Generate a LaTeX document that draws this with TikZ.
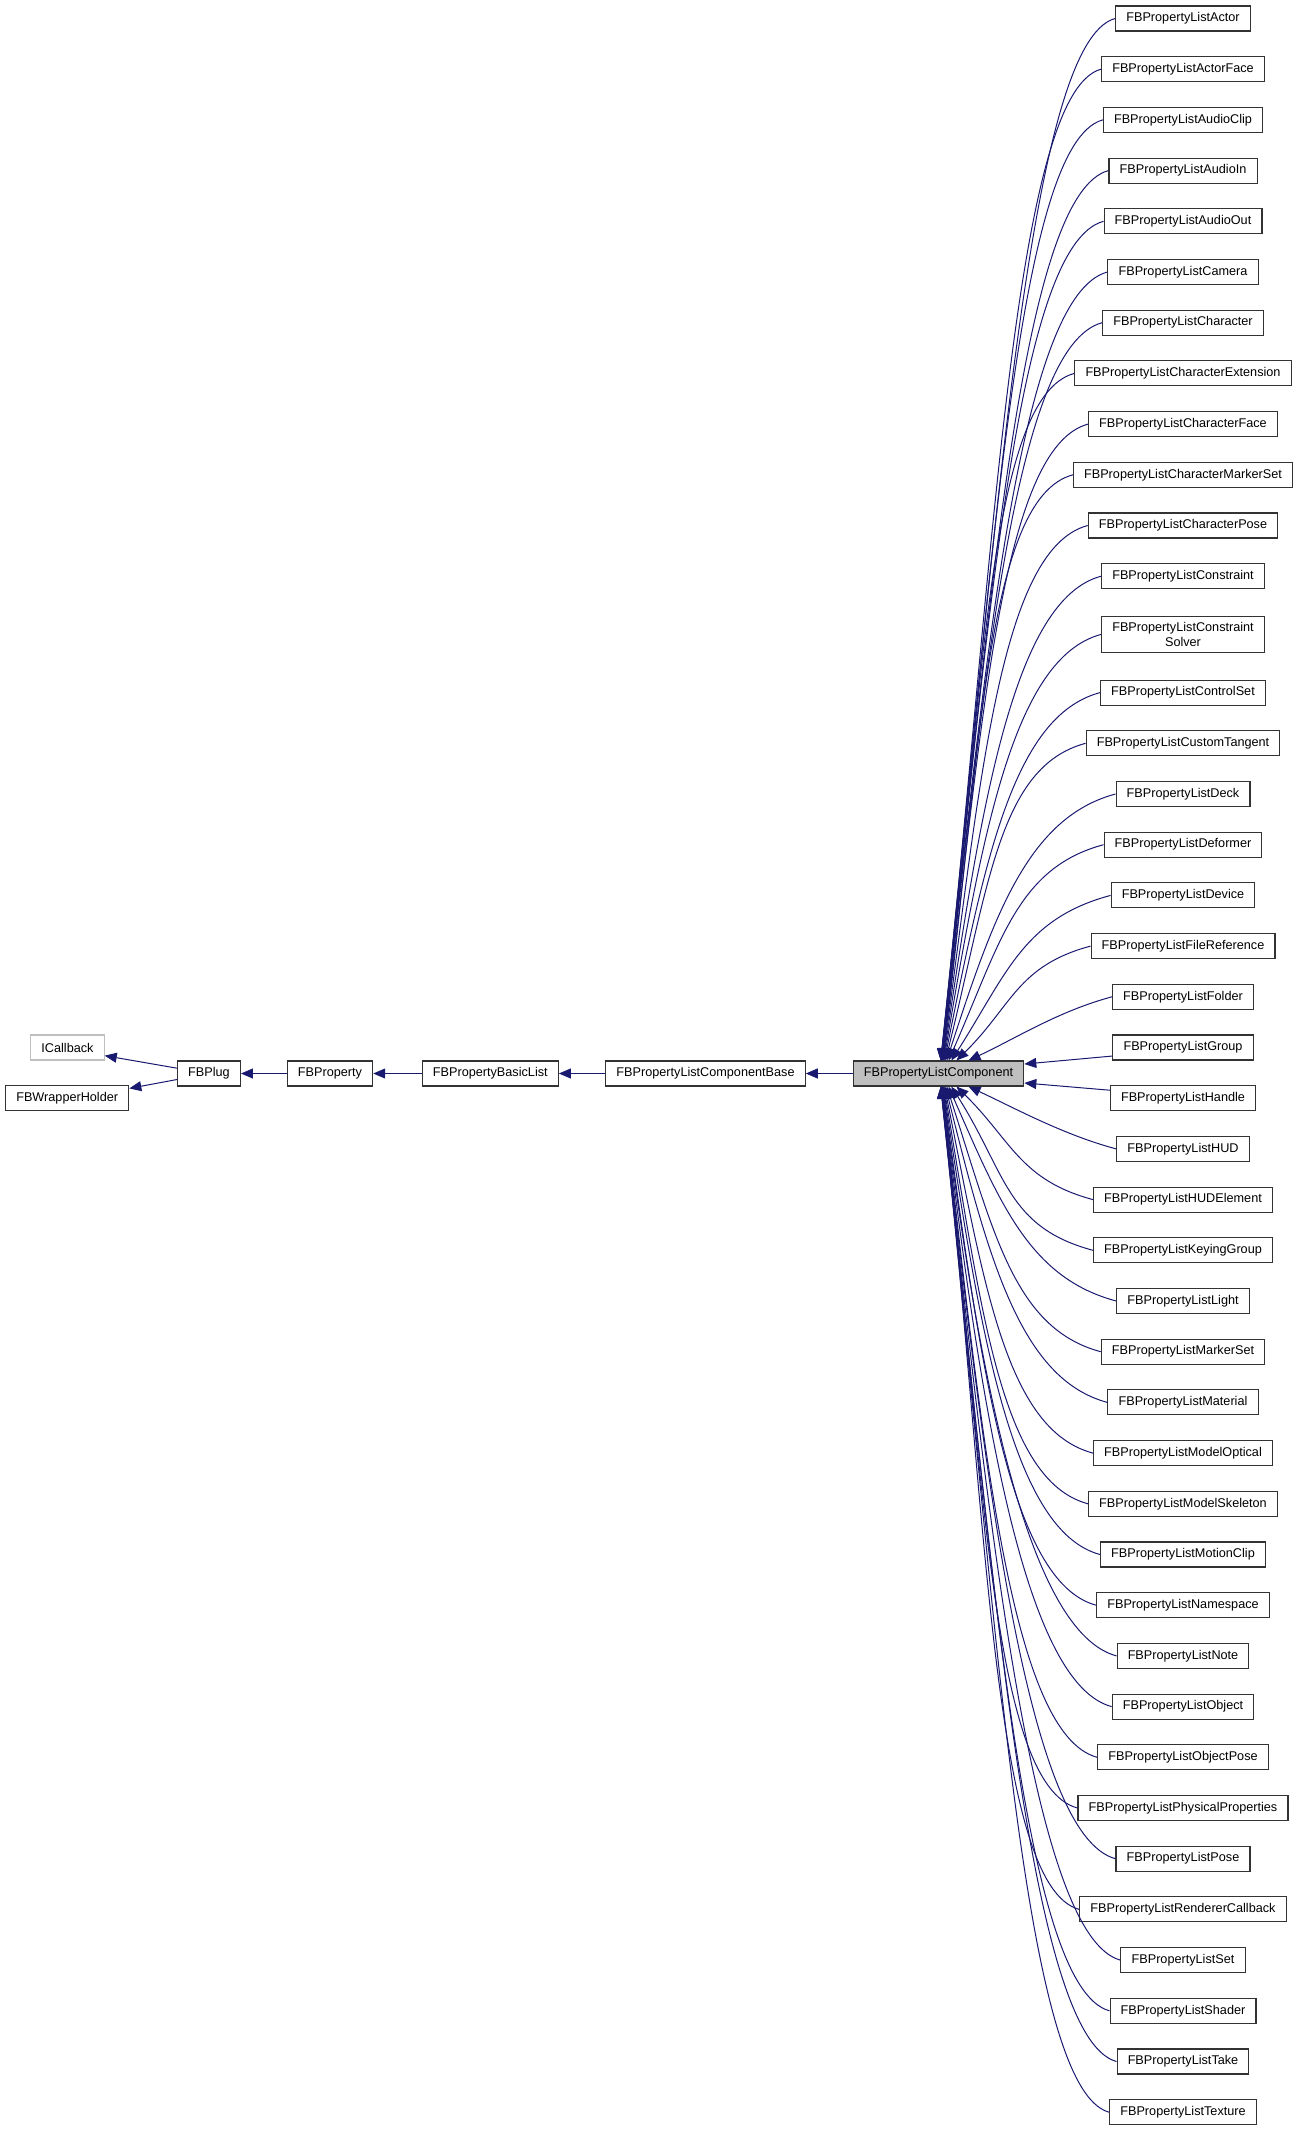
\documentclass[tikz,border=0pt]{standalone}
\usepackage{fontspec}
\setmainfont{Liberation Sans}
\usepackage{tikz}
\usetikzlibrary{arrows.meta}

\definecolor{edgeblue}{HTML}{191970}
\definecolor{nolink}{HTML}{BFBFBF}
\newcommand{\boxfont}{\fontsize{9.5}{11.25}\selectfont}

\begin{document}
\begin{tikzpicture}
		[x=0.75pt,y=0.75pt,
		n/.style= {draw=black!80,line width=0.8pt,fill=white,inner xsep=8pt,inner ysep=4.5pt,minimum height=18.75pt,font=\boxfont,align=center},
		e/.style= {draw=edgeblue,line width=0.75pt,-{Triangle[length=9pt,width=7.5pt]}}]

		\useasboundingbox (0,0) rectangle (1299,-2131);

		% base classes
		\node[n,draw=nolink] (icb) at (67.5,-1047.5) {ICallback};
		\node[n] (wrap) at (67.2,-1098.4) {FBWrapperHolder};
		\node[n] (plug) at (209,-1073.5) {FBPlug};
		\node[n] (prop) at (330,-1073.5) {FBProperty};
		\node[n] (basic) at (490.3,-1073.5) {FBPropertyBasicList};
		\node[n] (base) at (705.5,-1073.5) {FBPropertyListComponentBase};
		\node[n,fill=nolink] (comp) at (938.5,-1073.5) {FBPropertyListComponent};

		% derived classes
		\foreach \i/\t in {0/Actor,1/ActorFace,2/AudioClip,3/AudioIn,4/AudioOut,5/Camera,
			6/Character,7/CharacterExtension,8/CharacterFace,9/CharacterMarkerSet,
			10/CharacterPose,11/Constraint,12/{Constraint\\Solver},13/ControlSet,
			14/CustomTangent,15/Deck,16/Deformer,17/Device,18/FileReference,19/Folder,
			20/Group,21/Handle,22/HUD,23/HUDElement,24/KeyingGroup,25/Light,26/MarkerSet,
			27/Material,28/ModelOptical,29/ModelSkeleton,30/MotionClip,31/Namespace,
			32/Note,33/Object,34/ObjectPose,35/PhysicalProperties,36/Pose,
			37/RendererCallback,38/Set,39/Shader,40/Take,41/Texture}
		{
			\pgfmathsetmacro\yc{18.5+50.7*\i+7.5*(\i>11)+7.5*(\i>12)}
			\node[n] (c\i) at (1183,-\yc) {FBPropertyList\t};
		}

		\draw[e] (plug.west) ++(0,5.3) -- ([yshift=-6.1pt]icb.east);
		\draw[e] ([yshift=-4.5pt]plug.west) -- ([yshift=7.5pt]wrap.east);
		\draw[e] (prop) -- (plug);
		\draw[e] (basic) -- (prop);
		\draw[e] (base) -- (basic);
		\draw[e] (comp) -- (base);

		\draw[e] ([yshift=-6.4pt]c20.west) -- ([yshift=7.1pt]comp.east);
		\draw[e] ([yshift=6pt]c21.west) -- ([yshift=-7.1pt]comp.east);

		\foreach \i in {0,...,41}
		{
			\pgfmathsetmacro\yc{18.5+50.7*\i+7.5*(\i>11)+7.5*(\i>12)}
			\pgfmathsetmacro\d{abs(20.5-\i)}
			\pgfmathsetmacro\D{abs(1073.5-\yc)-12.5}
			\pgfmathsetmacro\dx{0.75*45/\d}
			\pgfmathsetmacro\a{84-59*exp(-(\d-1.5)/2.5)}
			\pgfmathsetmacro\od{0.75*min(90,0.4*\D+30)}
			\pgfmathsetmacro\id{0.75*(0.5*\D+20)}
			\ifnum\i<20
				\draw[e] (c\i.west) to[out=195,in=\a,out distance=\od pt,in distance=\id pt] ([xshift=\dx pt]comp.north);
			\else\ifnum\i>21
				\draw[e] (c\i.west) to[out=165,in=-\a,out distance=\od pt,in distance=\id pt] ([xshift=\dx pt]comp.south);
			\fi\fi
		}

	\end{tikzpicture}
\end{document}
